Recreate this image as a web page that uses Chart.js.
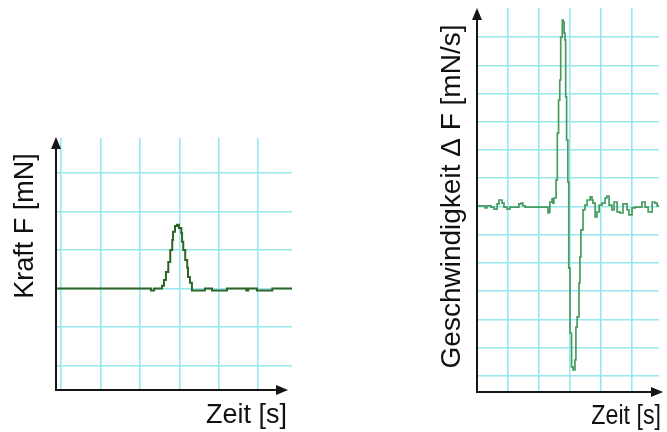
<!DOCTYPE html>
<html>
<head>
<meta charset="utf-8">
<script src="https://cdn.jsdelivr.net/npm/chart.js@4"></script>
<style>
  html, body { margin: 0; padding: 0; background: #fff; }
  #wrap { position: relative; width: 667px; height: 432px; overflow: hidden; }
  canvas { position: absolute; top: 0; }
  #force { left: 0; }
  #rate { left: 333px; }
</style>
</head>
<body>
<div id="wrap">
  <canvas id="force" width="333" height="432"></canvas>
  <canvas id="rate" width="334" height="432"></canvas>
</div>
<script>
// Force signal F(t): one short pulse on a flat baseline (stepped samples)
const forceTime = [
  -0.10, 2.26, 2.28, 2.36, 2.54, 2.56, 2.61, 2.66, 2.72, 2.77,
   2.82, 2.84, 2.89, 2.94, 2.99, 3.05, 3.07, 3.10, 3.15, 3.20,
   3.22, 3.27, 3.32, 3.65, 3.83, 4.21, 4.70, 4.75, 4.97, 5.36,
   5.86
];
const forceValue = [
   0.00, 0.00, -0.05, 0.00, 0.00, 0.07, 0.22, 0.43, 0.69, 1.00,
   1.26, 1.47, 1.62, 1.65, 1.57, 1.44, 1.21, 1.00, 0.74, 0.54,
   0.30, 0.15, -0.05, 0.00, -0.05, 0.00, -0.05, 0.00, -0.05, 0.00,
   0.00
];

// Rate of change ΔF(t): noisy baseline with a positive and a negative spike (stepped samples)
const rateTime = [
  0.03, 0.19, 0.26, 0.32, 0.45, 0.55, 0.65, 0.71, 0.81, 0.87,
  0.97, 1.06, 1.23, 1.35, 1.42, 1.48, 1.55, 2.23, 2.29, 2.32,
  2.35, 2.42, 2.45, 2.48, 2.55, 2.59, 2.63, 2.67, 2.70, 2.75,
  2.78, 2.81, 2.84, 2.86, 2.89, 2.93, 2.96, 3.00, 3.05, 3.10,
  3.16, 3.19, 3.23, 3.29, 3.32, 3.35, 3.42, 3.48, 3.55, 3.65,
  3.71, 3.74, 3.81, 3.87, 3.94, 4.03, 4.13, 4.19, 4.26, 4.35,
  4.42, 4.52, 4.61, 4.71, 4.84, 4.90, 5.00, 5.10, 5.19, 5.32,
  5.42, 5.52, 5.65, 5.74, 5.81, 5.87
];
const rateValue = [
   0.02,  0.02, -0.05,  0.02, -0.02, -0.09,  0.09,  0.23,  0.12, -0.02,
  -0.09, -0.02, -0.02,  0.09,  0.12,  0.02, -0.02, -0.02, -0.23, -0.19,
   0.16,  0.27,  0.12,  0.30,  0.94,  2.60,  3.77,  4.48,  6.00,  6.60,
   6.53,  6.14,  5.89,  3.88,  2.35,  0.87, -2.18, -4.48, -5.68, -5.79,
  -5.43, -4.27, -3.91, -2.71, -1.79, -0.83, -0.12,  0.05,  0.23,  0.34,
   0.23,  0.12, -0.37, -0.19,  0.05,  0.12,  0.30,  0.37,  0.05, -0.12,
   0.16, -0.19, -0.23,  0.09, -0.12, -0.30, -0.05, -0.02, -0.02,  0.16,
  -0.02, -0.19,  0.16,  0.12,  0.02,  0.02
];

// Grid line positions (no tick labels are shown)
const forceGridX = [0, 1, 2, 3, 4, 5];
const forceGridY = [-2, -1, 0, 1, 2, 3];
const rateGridX = [1, 2, 3, 4, 5];
const rateGridY = [-6, -5, -4, -3, -2, -1, 0, 1, 2, 3, 4, 5, 6];

// Axis titles
const forceTitleX = 'Zeit [s]';
const forceTitleY = 'Kraft F [mN]';
const rateTitleX = 'Zeit [s]';
const rateTitleY = 'Geschwindigkeit \u0394 F [mN/s]';

const GRID_COLOR = 'rgb(150, 232, 238)';
const FONT = '"Liberation Sans", Arial, Helvetica, sans-serif';

// Draws the two arrowed axes and the axis titles
const arrowAxes = {
  id: 'arrowAxes',
  afterDraw(chart, args, o) {
    const { ctx, chartArea: a } = chart;
    const x0 = a.left, y0 = a.bottom;
    const yTip = a.top + o.yTipOffset;
    const xTip = a.right + o.xTipOffset;
    ctx.save();
    ctx.strokeStyle = o.color;
    ctx.fillStyle = o.color;
    ctx.lineWidth = o.lineWidth;
    ctx.beginPath();
    ctx.moveTo(x0, y0 + o.lineWidth / 2);
    ctx.lineTo(x0, yTip + o.head - 1);
    ctx.moveTo(x0 - o.lineWidth / 2, y0);
    ctx.lineTo(xTip - o.head + 1, y0);
    ctx.stroke();

    ctx.beginPath();
    ctx.moveTo(x0, yTip);
    ctx.lineTo(x0 - o.half, yTip + o.head);
    ctx.lineTo(x0 + o.half, yTip + o.head);
    ctx.closePath();
    ctx.fill();

    ctx.beginPath();
    ctx.moveTo(xTip, y0);
    ctx.lineTo(xTip - o.head, y0 - o.half);
    ctx.lineTo(xTip - o.head, y0 + o.half);
    ctx.closePath();
    ctx.fill();

    // x title, right aligned under the arrow
    const tx = o.xTitle;
    ctx.fillStyle = o.textColor;
    ctx.font = tx.size + 'px ' + FONT;
    ctx.textAlign = 'right';
    ctx.textBaseline = 'alphabetic';
    ctx.save();
    ctx.translate(tx.right, tx.baseline);
    ctx.scale(tx.squeeze, 1);
    ctx.fillText(tx.text, 0, 0);
    ctx.restore();

    // y title, rotated
    const ty = o.yTitle;
    ctx.font = ty.size + 'px ' + FONT;
    ctx.textAlign = 'center';
    ctx.save();
    ctx.translate(ty.baseline, ty.center);
    ctx.rotate(-Math.PI / 2);
    ctx.fillText(ty.text, 0, 0);
    ctx.restore();
    ctx.restore();
  }
};

function gridScale(min, max, positions) {
  return {
    type: 'linear',
    min, max,
    afterBuildTicks: (scale) => { scale.ticks = positions.map(v => ({ value: v })); },
    ticks: { display: false },
    grid: { color: GRID_COLOR, lineWidth: 1.6, drawTicks: false },
    border: { display: false }
  };
}

function makeChart(id, times, values, cfg) {
  return new Chart(document.getElementById(id), {
    type: 'line',
    data: {
      datasets: [{
        data: times.map((t, i) => ({ x: t, y: values[i] })),
        borderColor: cfg.lineColor,
        borderWidth: cfg.lineWidth,
        pointRadius: 0,
        tension: 0,
        stepped: cfg.stepped,
        fill: false
      }]
    },
    options: {
      responsive: false,
      animation: false,
      devicePixelRatio: 1,
      layout: { padding: cfg.padding },
      plugins: {
        legend: { display: false },
        tooltip: { enabled: false },
        arrowAxes: cfg.axes
      },
      scales: {
        x: gridScale(cfg.xMin, cfg.xMax, cfg.gridX),
        y: gridScale(cfg.yMin, cfg.yMax, cfg.gridY)
      }
    },
    plugins: [arrowAxes]
  });
}

makeChart('force', forceTime, forceValue, {
  lineColor: 'rgb(46, 100, 38)',
  lineWidth: 2,
  stepped: true,
  padding: { left: 56, right: 41, top: 138, bottom: 42 },
  xMin: -0.13, xMax: 5.86, gridX: forceGridX,
  yMin: -2.63, yMax: 3.90, gridY: forceGridY,
  axes: {
    color: '#151515', textColor: '#111', lineWidth: 2,
    head: 12, half: 5, yTipOffset: -1, xTipOffset: -4,
    xTitle: { text: forceTitleX, right: 287, baseline: 423, size: 27, squeeze: 1 },
    yTitle: { text: forceTitleY, baseline: 33, center: 226, size: 27 }
  }
});

makeChart('rate', rateTime, rateValue, {
  lineColor: 'rgb(72, 156, 96)',
  lineWidth: 1.7,
  stepped: true,
  padding: { left: 144, right: 8, top: 8, bottom: 40 },
  xMin: 0, xMax: 5.87, gridX: rateGridX,
  yMin: -6.57, yMax: 7.03, gridY: rateGridY,
  axes: {
    color: '#151515', textColor: '#111', lineWidth: 2,
    head: 12, half: 5, yTipOffset: 0, xTipOffset: 4,
    xTitle: { text: rateTitleX, right: 328, baseline: 424, size: 27, squeeze: 0.86 },
    yTitle: { text: rateTitleY, baseline: 127, center: 196.5, size: 28 }
  }
});
</script>
</body>
</html>
